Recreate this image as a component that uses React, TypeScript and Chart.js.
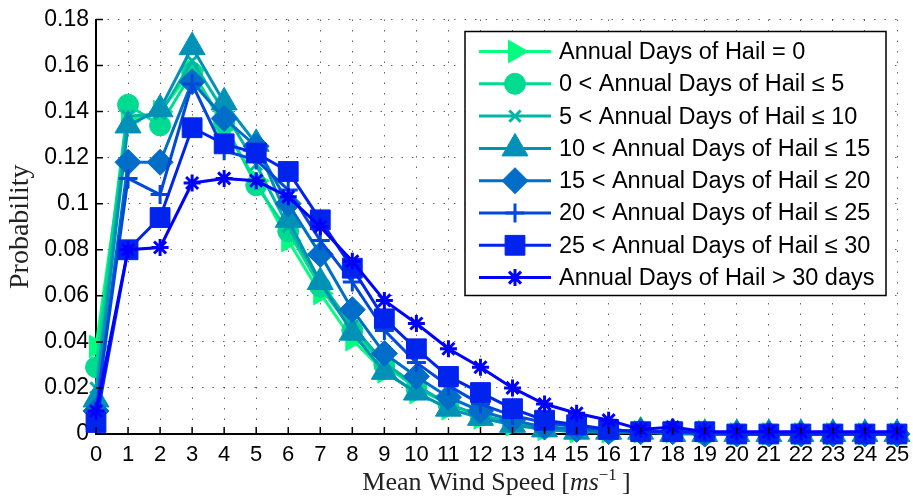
import React, { useEffect, useRef } from 'react';
import { Chart, registerables } from 'chart.js';
import { drawPoint } from 'chart.js/helpers';

Chart.register(...registerables);

const windSpeeds = [0, 1, 2, 3, 4, 5, 6, 7, 8, 9, 10, 11, 12, 13, 14, 15, 16, 17, 18, 19, 20, 21, 22, 23, 24, 25];

const seriesLabels = [
  'Annual Days of Hail = 0',
  '0 < Annual Days of Hail \u2264 5',
  '5 < Annual Days of Hail \u2264 10',
  '10 < Annual Days of Hail \u2264 15',
  '15 < Annual Days of Hail \u2264 20',
  '20 < Annual Days of Hail \u2264 25',
  '25 < Annual Days of Hail \u2264 30',
  'Annual Days of Hail > 30 days',
];

const hail0 = [0.038, 0.136, 0.140, 0.158, 0.133, 0.110, 0.084, 0.061, 0.041, 0.027, 0.018, 0.011, 0.007, 0.004, 0.002, 0.001, 0.001, 0.001, 0.001, 0.001, 0.000, 0.000, 0.000, 0.000, 0.000, 0.000];
const hail0to5 = [0.029, 0.143, 0.134, 0.157, 0.135, 0.108, 0.088, 0.064, 0.045, 0.030, 0.020, 0.013, 0.008, 0.005, 0.003, 0.002, 0.001, 0.001, 0.001, 0.000, 0.000, 0.000, 0.000, 0.000, 0.000, 0.000];
const hail5to10 = [0.020, 0.138, 0.139, 0.162, 0.140, 0.117, 0.090, 0.066, 0.047, 0.031, 0.021, 0.013, 0.008, 0.005, 0.003, 0.002, 0.001, 0.001, 0.001, 0.000, 0.000, 0.000, 0.000, 0.000, 0.000, 0.000];
const hail10to15 = [0.015, 0.134, 0.141, 0.168, 0.144, 0.126, 0.093, 0.066, 0.044, 0.027, 0.018, 0.011, 0.007, 0.004, 0.002, 0.001, 0.001, 0.001, 0.000, 0.000, 0.000, 0.000, 0.000, 0.000, 0.000, 0.000];
const hail15to20 = [0.010, 0.118, 0.118, 0.153, 0.137, 0.125, 0.100, 0.078, 0.054, 0.035, 0.025, 0.016, 0.010, 0.006, 0.003, 0.002, 0.001, 0.001, 0.001, 0.000, 0.000, 0.000, 0.000, 0.000, 0.000, 0.000];
const hail20to25 = [0.010, 0.111, 0.104, 0.152, 0.123, 0.119, 0.106, 0.084, 0.066, 0.045, 0.031, 0.021, 0.013, 0.008, 0.005, 0.003, 0.002, 0.001, 0.001, 0.000, 0.000, 0.000, 0.000, 0.000, 0.000, 0.000];
const hail25to30 = [0.005, 0.080, 0.094, 0.133, 0.126, 0.122, 0.114, 0.093, 0.072, 0.050, 0.037, 0.025, 0.018, 0.011, 0.006, 0.004, 0.002, 0.001, 0.001, 0.001, 0.000, 0.000, 0.000, 0.000, 0.000, 0.000];
const hailOver30 = [0.010, 0.080, 0.081, 0.109, 0.111, 0.110, 0.103, 0.090, 0.075, 0.058, 0.048, 0.037, 0.029, 0.020, 0.013, 0.009, 0.006, 0.002, 0.003, 0.001, 0.001, 0.001, 0.001, 0.001, 0.001, 0.001];

const seriesValues = [hail0, hail0to5, hail5to10, hail10to15, hail15to20, hail20to25, hail25to30, hailOver30];

const seriesColors = ['#00FF80', '#00DB92', '#00B6A4', '#0092B6', '#006DC8', '#0049DB', '#0024ED', '#0000FF'];

const markerStyles = [
  { pointStyle: 'triangle', rotation: 90, radius: 13, borderWidth: 1 },
  { pointStyle: 'circle', rotation: 0, radius: 10.5, borderWidth: 1 },
  { pointStyle: 'crossRot', rotation: 0, radius: 8, borderWidth: 3 },
  { pointStyle: 'triangle', rotation: 0, radius: 15, borderWidth: 1 },
  { pointStyle: 'rectRot', rotation: 0, radius: 13, borderWidth: 1 },
  { pointStyle: 'cross', rotation: 0, radius: 9.5, borderWidth: 3 },
  { pointStyle: 'rect', rotation: 0, radius: 14, borderWidth: 1 },
  { pointStyle: 'star', rotation: 0, radius: 8.5, borderWidth: 3 },
];

const legendPlugin = {
  id: 'hailLegend',
  afterDatasetsDraw(chart: any) {
    const ctx = chart.ctx;
    const ca = chart.chartArea;
    const boxW = 421;
    const boxH = 264;
    const bx = ca.right - 11 - boxW;
    const by = ca.top + 12;
    ctx.save();
    ctx.fillStyle = '#ffffff';
    ctx.fillRect(bx, by, boxW, boxH);
    ctx.strokeStyle = '#000000';
    ctx.lineWidth = 1.5;
    ctx.strokeRect(bx, by, boxW, boxH);
    ctx.font = '23.5px "Liberation Sans", Arial, sans-serif';
    ctx.textBaseline = 'middle';
    ctx.textAlign = 'left';
    for (let i = 0; i < seriesLabels.length; i++) {
      const y = by + 20 + i * 32.3;
      const color = seriesColors[i];
      ctx.strokeStyle = color;
      ctx.lineWidth = 3;
      ctx.beginPath();
      ctx.moveTo(bx + 14, y);
      ctx.lineTo(bx + 86, y);
      ctx.stroke();
      const m = markerStyles[i];
      ctx.fillStyle = color;
      ctx.strokeStyle = color;
      ctx.lineWidth = m.borderWidth;
      drawPoint(ctx, { pointStyle: m.pointStyle, rotation: m.rotation, radius: m.radius, borderWidth: m.borderWidth } as any, bx + 50, y);
      ctx.fillStyle = '#000000';
      ctx.fillText(seriesLabels[i], bx + 94, y + 1);
    }
    ctx.restore();
  },
};

const axisDecorPlugin = {
  id: 'axisDecor',
  afterDraw(chart: any) {
    const ctx = chart.ctx;
    const ca = chart.chartArea;
    const xs = chart.scales.x;
    const ys = chart.scales.y;
    ctx.save();
    ctx.strokeStyle = '#000000';
    ctx.lineWidth = 1.5;
    ctx.beginPath();
    for (const t of xs.ticks) {
      const px = xs.getPixelForValue(t.value);
      ctx.moveTo(px, ca.bottom);
      ctx.lineTo(px, ca.bottom - 7);
    }
    for (const t of ys.ticks) {
      const py = ys.getPixelForValue(t.value);
      ctx.moveTo(ca.left, py);
      ctx.lineTo(ca.left + 7, py);
    }
    ctx.stroke();

    // x-axis title with italic unit and superscript
    const baseline = chart.height - 6;
    const parts = [
      { t: 'Mean Wind Speed [', f: '26px "Liberation Serif", serif', dy: 0 },
      { t: 'ms', f: 'italic 26px "Liberation Serif", serif', dy: 0 },
      { t: '\u22121', f: '17px "Liberation Serif", serif', dy: -10 },
      { t: '\u2009]', f: '26px "Liberation Serif", serif', dy: 0 },
    ];
    let total = 0;
    for (const p of parts) {
      ctx.font = p.f;
      total += ctx.measureText(p.t).width;
    }
    let x = (ca.left + ca.right) / 2 - total / 2;
    ctx.fillStyle = '#222222';
    ctx.textBaseline = 'alphabetic';
    ctx.textAlign = 'left';
    for (const p of parts) {
      ctx.font = p.f;
      ctx.fillText(p.t, x, baseline + p.dy);
      x += ctx.measureText(p.t).width;
    }
    ctx.restore();
  },
};

export default function App() {
  const canvasRef = useRef<HTMLCanvasElement | null>(null);

  useEffect(() => {
    const canvas = canvasRef.current;
    if (!canvas) return;
    const datasets = seriesValues.map((vals, i) => ({
      label: seriesLabels[i],
      data: windSpeeds.map((w, j) => ({ x: w, y: vals[j] })),
      borderColor: seriesColors[i],
      backgroundColor: seriesColors[i],
      borderWidth: 3,
      pointStyle: markerStyles[i].pointStyle,
      pointRotation: markerStyles[i].rotation,
      pointRadius: markerStyles[i].radius,
      pointBorderWidth: markerStyles[i].borderWidth,
      pointBackgroundColor: seriesColors[i],
      pointBorderColor: seriesColors[i],
      tension: 0,
      clip: false as any,
      order: seriesValues.length - i,
    }));

    const chart = new Chart(canvas, {
      type: 'line',
      data: { datasets },
      options: {
        animation: false,
        responsive: false,
        maintainAspectRatio: false,
        layout: { padding: { top: 19.5, right: 15, left: 0, bottom: 0 } },
        plugins: {
          legend: { display: false },
          tooltip: { enabled: false },
        },
        scales: {
          x: {
            type: 'linear',
            min: 0,
            max: 25,
            afterFit: (s: any) => { s.height = 62; s.paddingLeft = 0; s.paddingRight = 0; },
            ticks: {
              stepSize: 1,
              autoSkip: false,
              maxRotation: 0,
              padding: 8,
              color: '#000000',
              font: { family: '"Liberation Sans", Arial, sans-serif', size: 22 },
            },
            grid: { drawTicks: false, color: 'rgba(0,0,0,0.6)', lineWidth: 1 },
            border: { display: true, color: '#000000', width: 2, dash: [1.5, 9] },
          },
          y: {
            type: 'linear',
            min: 0,
            max: 0.18,
            afterFit: (s: any) => { s.width = 96; s.paddingTop = 0; s.paddingBottom = 0; },
            ticks: {
              stepSize: 0.02,
              padding: 7,
              color: '#000000',
              font: { family: '"Liberation Sans", Arial, sans-serif', size: 23 },
              callback: (v: any) => String(Number(Number(v).toFixed(2))),
            },
            title: {
              display: true,
              text: 'Probability',
              color: '#222222',
              font: { family: '"Liberation Serif", serif', size: 28 },
              padding: { top: 4, bottom: 0 },
            },
            grid: { drawTicks: false, color: 'rgba(0,0,0,0.6)', lineWidth: 1 },
            border: { display: true, color: '#000000', width: 2, dash: [1.5, 9] },
          },
        },
      },
      plugins: [legendPlugin, axisDecorPlugin],
    } as any);

    return () => chart.destroy();
  }, []);

  return (
    <div style={{ position: 'fixed', left: 0, top: 0, width: 913, height: 496, background: '#ffffff' }}>
      <canvas ref={canvasRef} width={913} height={496} style={{ display: 'block' }} />
    </div>
  );
}
